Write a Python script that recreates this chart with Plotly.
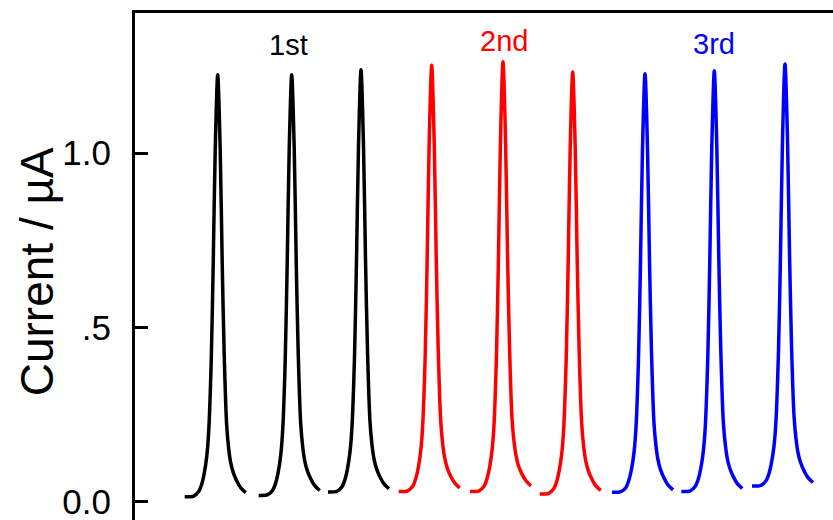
import plotly.graph_objects as go

# Sampling grid (s) relative to each peak maximum
offsets = [-33, -24, -19, -16, -13.5, -11, -9, -6.5, -4.5, -2.5, 0,
           2.5, 4.5, 6.5, 9, 11, 13, 15.5, 19, 23, 28]

# Peak times (s)
peak_times = [82.7, 156.7, 226.0, 296.7, 368.0, 437.7, 510.0, 579.3, 650.0]

# Currents (µA) for each injection
peak1 = [0.014, 0.016, 0.029, 0.050, 0.081, 0.129, 0.202, 0.401, 0.680, 1.007, 1.225,
         1.010, 0.686, 0.422, 0.218, 0.152, 0.112, 0.084, 0.060, 0.040, 0.026]
peak2 = [0.018, 0.020, 0.033, 0.054, 0.085, 0.133, 0.206, 0.405, 0.684, 1.011, 1.225,
         1.016, 0.692, 0.428, 0.224, 0.158, 0.118, 0.090, 0.066, 0.046, 0.032]
peak3 = [0.028, 0.030, 0.043, 0.064, 0.095, 0.143, 0.216, 0.415, 0.694, 1.021, 1.239,
         1.021, 0.697, 0.433, 0.229, 0.163, 0.123, 0.095, 0.071, 0.051, 0.037]
peak4 = [0.029, 0.031, 0.044, 0.066, 0.096, 0.145, 0.219, 0.420, 0.702, 1.032, 1.252,
         1.034, 0.706, 0.439, 0.233, 0.166, 0.126, 0.097, 0.073, 0.054, 0.039]
peak5 = [0.029, 0.031, 0.044, 0.066, 0.097, 0.146, 0.220, 0.424, 0.707, 1.040, 1.262,
         1.043, 0.714, 0.447, 0.240, 0.173, 0.133, 0.103, 0.079, 0.060, 0.045]
peak6 = [0.022, 0.024, 0.037, 0.058, 0.089, 0.137, 0.210, 0.409, 0.688, 1.015, 1.233,
         1.017, 0.693, 0.428, 0.224, 0.158, 0.118, 0.090, 0.066, 0.046, 0.032]
peak7 = [0.027, 0.029, 0.041, 0.063, 0.093, 0.141, 0.213, 0.411, 0.688, 1.012, 1.228,
         1.013, 0.691, 0.428, 0.225, 0.160, 0.120, 0.092, 0.068, 0.048, 0.034]
peak8 = [0.029, 0.031, 0.044, 0.065, 0.096, 0.144, 0.216, 0.415, 0.693, 1.019, 1.236,
         1.020, 0.697, 0.433, 0.230, 0.164, 0.124, 0.096, 0.072, 0.052, 0.038]
peak9 = [0.045, 0.047, 0.060, 0.081, 0.112, 0.160, 0.233, 0.433, 0.711, 1.038, 1.256,
         1.040, 0.716, 0.451, 0.247, 0.181, 0.141, 0.113, 0.089, 0.069, 0.055]
peaks = [peak1, peak2, peak3, peak4, peak5, peak6, peak7, peak8, peak9]

group_colors = ["#000000", "#ff0000", "#0000ff"]
group_labels = ["1st", "2nd", "3rd"]
label_times = [153.0, 368.5, 579.0]
label_currents = [1.311, 1.322, 1.312]

y_tickvals = [0.0, 0.5, 1.0]
y_ticktext = ["0.0", ".5", "1.0"]

FONT = "Liberation Sans, Arial"

fig = go.Figure()
for i, (pt, cur) in enumerate(zip(peak_times, peaks)):
    fig.add_trace(go.Scatter(
        x=[pt + o for o in offsets], y=cur, mode="lines",
        line=dict(color=group_colors[i // 3], width=3.5, shape="spline", smoothing=0.8),
        showlegend=False, hoverinfo="skip"))

for lab, t, c, col in zip(group_labels, label_times, label_currents, group_colors):
    fig.add_annotation(x=t, y=c, text=lab, showarrow=False,
                       font=dict(family=FONT, size=29, color=col),
                       xanchor="center", yanchor="middle")

fig.add_annotation(xref="paper", yref="y", x=-0.14, y=0.659, text="Current / µA",
                   textangle=-90, showarrow=False,
                   font=dict(family=FONT, size=46, color="black"),
                   xanchor="center", yanchor="middle")

fig.update_layout(
    width=833, height=520,
    margin=dict(l=135, r=0, t=13, b=0),
    paper_bgcolor="white", plot_bgcolor="white",
    font=dict(family=FONT, color="black"),
    xaxis=dict(range=[0, 698], side="top", showline=True, linecolor="black", linewidth=3,
               showticklabels=False, ticks="", showgrid=False, zeroline=False),
    yaxis=dict(range=[-0.0525, 1.402], showline=True, linecolor="black", linewidth=3,
               ticks="inside", ticklen=13, tickwidth=3, tickcolor="black",
               tickvals=y_tickvals, ticktext=y_ticktext, ticklabelstandoff=14,
               ticklabeloverflow="allow",
               tickfont=dict(family=FONT, size=35, color="black"),
               showgrid=False, zeroline=False),
)

fig.write_html("out.html")
